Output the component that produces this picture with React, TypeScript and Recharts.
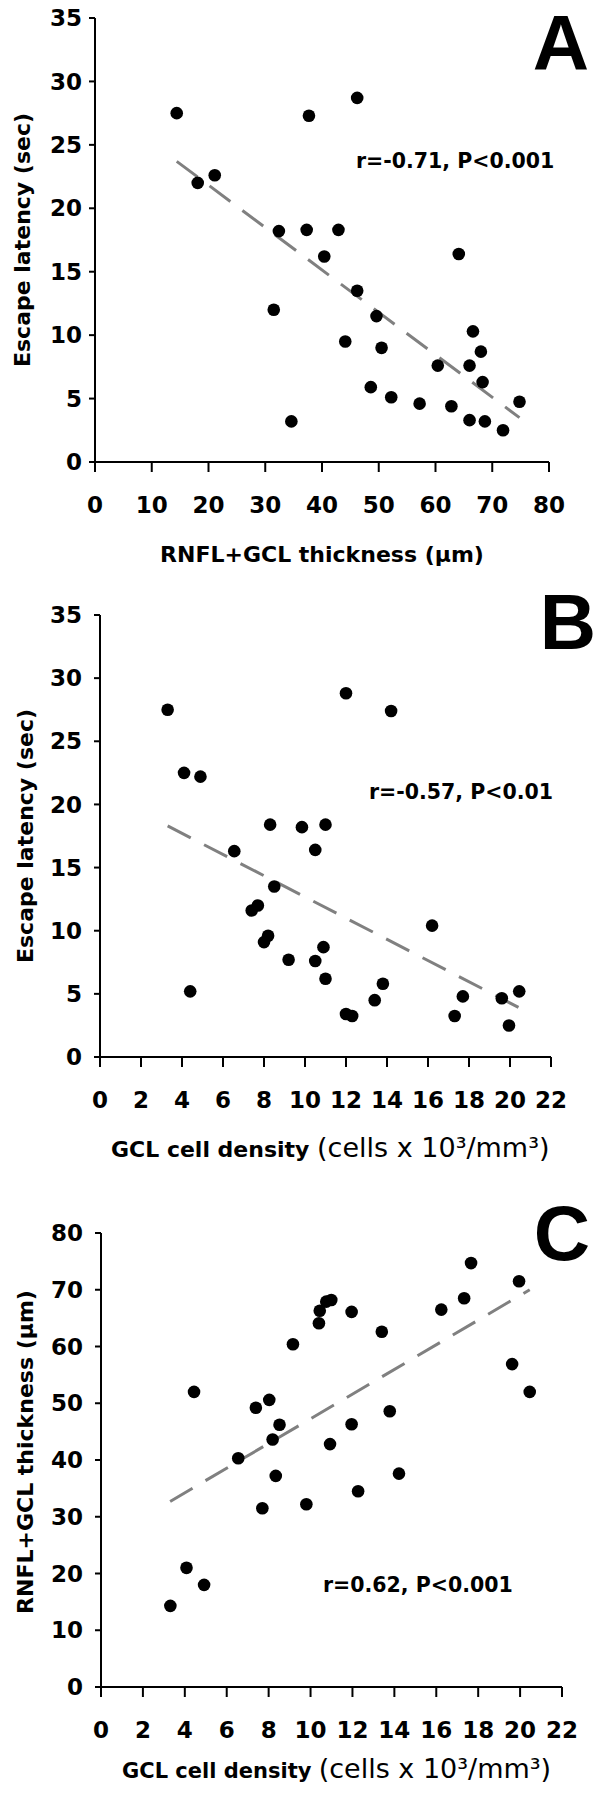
import { ScatterChart, Scatter, XAxis, YAxis, ReferenceLine } from "recharts";

// Panel A: RNFL+GCL thickness vs escape latency
const thicknessA = [14.4, 18.1, 21.1, 37.7, 46.2, 32.4, 37.3, 42.9, 40.4, 64.1, 46.2, 31.5, 49.6, 44.1, 50.5, 66.6, 68.0, 60.4, 66.0, 68.3, 48.6, 52.2, 57.2, 62.8, 74.8, 34.6, 66.0, 68.7, 71.9];
const latencyA = [27.5, 22.0, 22.6, 27.3, 28.7, 18.2, 18.3, 18.3, 16.2, 16.4, 13.5, 12.0, 11.5, 9.5, 9.0, 10.3, 8.7, 7.6, 7.6, 6.3, 5.9, 5.1, 4.6, 4.4, 4.75, 3.2, 3.3, 3.2, 2.5];
const trendA = [{ x: 14.4, y: 23.7 }, { x: 74.8, y: 3.5 }];

// Panel B: GCL cell density vs escape latency
const densityB = [3.3, 4.1, 4.9, 12.0, 14.2, 8.3, 9.85, 11.0, 6.55, 10.5, 8.5, 7.4, 7.7, 8.0, 8.2, 9.2, 10.5, 10.9, 11.0, 16.2, 4.4, 13.8, 13.4, 12.0, 12.3, 17.7, 17.3, 19.6, 20.45, 19.95];
const latencyB = [27.5, 22.5, 22.2, 28.8, 27.4, 18.4, 18.2, 18.4, 16.3, 16.4, 13.5, 11.6, 12.0, 9.1, 9.6, 7.7, 7.6, 8.7, 6.2, 10.4, 5.2, 5.8, 4.5, 3.4, 3.25, 4.8, 3.25, 4.65, 5.2, 2.5];
const trendB = [{ x: 3.3, y: 18.3 }, { x: 20.45, y: 3.9 }];

// Panel C: GCL cell density vs RNFL+GCL thickness
const densityC = [4.44, 7.39, 8.03, 8.52, 8.19, 6.55, 8.34, 9.16, 10.4, 10.44, 10.75, 10.99, 11.96, 13.4, 11.96, 10.93, 13.78, 14.22, 12.27, 16.24, 17.33, 17.66, 19.95, 19.62, 20.46, 7.7, 9.8, 4.08, 4.92, 3.31];
const thicknessC = [52.0, 49.2, 50.6, 46.2, 43.6, 40.3, 37.2, 60.4, 64.1, 66.3, 67.9, 68.2, 66.1, 62.6, 46.3, 42.8, 48.6, 37.6, 34.5, 66.5, 68.5, 74.7, 71.5, 56.9, 52.0, 31.5, 32.2, 21.0, 18.0, 14.3];
const trendC = [{ x: 3.3, y: 32.7 }, { x: 20.46, y: 70.0 }];

const latencyTicks = [0, 5, 10, 15, 20, 25, 30, 35];
const thicknessTicks = [0, 10, 20, 30, 40, 50, 60, 70, 80];
const densityTicks = [0, 2, 4, 6, 8, 10, 12, 14, 16, 18, 20, 22];

const toPoints = (xs: number[], ys: number[]) => xs.map((x, i) => ({ x, y: ys[i] }));

const Dot = (props: any) => <circle cx={props.cx} cy={props.cy} r={6.3} fill="#000" />;

const tickStyle = { fontFamily: "DejaVu Sans", fontWeight: "bold", fontSize: 23, fill: "#000" };
const axisLine = { stroke: "#000", strokeWidth: 2 };
const trendStyle = { stroke: "#808080", strokeWidth: 3, strokeDasharray: "26 15" };
const bold = { fontFamily: "DejaVu Sans", fontWeight: "bold" as const };

function DensityLabel({ x, y, small, big }: { x: number; y: number; small: number; big: number }) {
  return (
    <text x={x} y={y} fill="#000">
      <tspan fontFamily="DejaVu Sans" fontWeight="bold" fontSize={small}>GCL cell density </tspan>
      <tspan fontFamily="DejaVu Sans" fontSize={big}>(cells x 10³/mm³)</tspan>
    </text>
  );
}

export default function App() {
  return (
    <div style={{ position: "absolute", left: 0, top: 0, width: 600, height: 1800, background: "#fff" }}>
      {/* A */}
      <div style={{ position: "absolute", left: 0, top: 0 }}>
        <ScatterChart width={600} height={575} margin={{ top: 18, right: 51, bottom: 0, left: 0 }}>
          <XAxis type="number" dataKey="x" domain={[0, 80]} ticks={thicknessTicks} height={113}
            axisLine={axisLine} tickLine={axisLine} tickSize={10} tickMargin={25} tick={tickStyle} />
          <YAxis type="number" dataKey="y" domain={[0, 35]} ticks={latencyTicks} width={95}
            axisLine={axisLine} tickLine={axisLine} tickSize={6} tickMargin={7} tick={tickStyle} />
          <Scatter data={toPoints(thicknessA, latencyA)} shape={Dot} isAnimationActive={false} />
          <ReferenceLine segment={trendA} {...trendStyle} />
          <text x={589} y={70} textAnchor="end" fontFamily="Liberation Sans" fontWeight="bold" fontSize={78}>A</text>
          <text x={356} y={168} {...bold} fontSize={20.5}>r=-0.71, P&lt;0.001</text>
          <text x={322} y={562} textAnchor="middle" {...bold} fontSize={22}>RNFL+GCL thickness (μm)</text>
          <text transform="translate(22,240) rotate(-90)" textAnchor="middle" dominantBaseline="central" {...bold} fontSize={22}>Escape latency (sec)</text>
        </ScatterChart>
      </div>

      {/* B */}
      <div style={{ position: "absolute", left: 0, top: 575 }}>
        <ScatterChart width={600} height={605} margin={{ top: 40, right: 49, bottom: 0, left: 0 }}>
          <XAxis type="number" dataKey="x" domain={[0, 22]} ticks={densityTicks} height={123}
            axisLine={axisLine} tickLine={axisLine} tickSize={10} tickMargin={25} tick={tickStyle} />
          <YAxis type="number" dataKey="y" domain={[0, 35]} ticks={latencyTicks} width={100}
            axisLine={axisLine} tickLine={axisLine} tickSize={6} tickMargin={12} tick={tickStyle} />
          <Scatter data={toPoints(densityB, latencyB)} shape={Dot} isAnimationActive={false} />
          <ReferenceLine segment={trendB} {...trendStyle} />
          <text x={596} y={74} textAnchor="end" fontFamily="Liberation Sans" fontWeight="bold" fontSize={78}>B</text>
          <text x={369} y={224} {...bold} fontSize={20.5}>r=-0.57, P&lt;0.01</text>
          <DensityLabel x={111} y={582} small={22} big={27} />
          <text transform="translate(25,261) rotate(-90)" textAnchor="middle" dominantBaseline="central" {...bold} fontSize={22}>Escape latency (sec)</text>
        </ScatterChart>
      </div>

      {/* C */}
      <div style={{ position: "absolute", left: 0, top: 1180 }}>
        <ScatterChart width={600} height={620} margin={{ top: 53, right: 38, bottom: 0, left: 0 }}>
          <XAxis type="number" dataKey="x" domain={[0, 22]} ticks={densityTicks} height={113}
            axisLine={axisLine} tickLine={axisLine} tickSize={10} tickMargin={25} tick={tickStyle} />
          <YAxis type="number" dataKey="y" domain={[0, 80]} ticks={thicknessTicks} width={101}
            axisLine={axisLine} tickLine={axisLine} tickSize={6} tickMargin={12} tick={tickStyle} />
          <Scatter data={toPoints(densityC, thicknessC)} shape={Dot} isAnimationActive={false} />
          <ReferenceLine segment={trendC} {...trendStyle} />
          <text x={590} y={80} textAnchor="end" fontFamily="Liberation Sans" fontWeight="bold" fontSize={78}>C</text>
          <text x={323} y={412} {...bold} fontSize={20.5}>r=0.62, P&lt;0.001</text>
          <DensityLabel x={122} y={598} small={21} big={27} />
          <text transform="translate(25,272) rotate(-90)" textAnchor="middle" dominantBaseline="central" {...bold} fontSize={22}>RNFL+GCL thickness  (μm)</text>
        </ScatterChart>
      </div>
    </div>
  );
}
